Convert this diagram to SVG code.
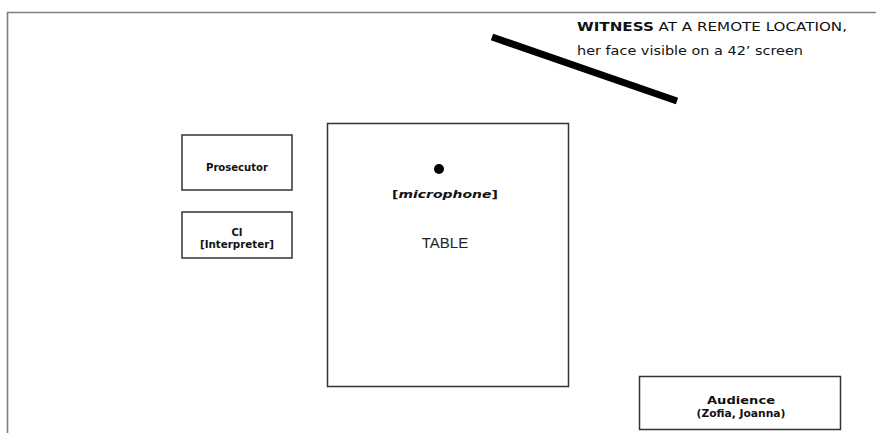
<svg xmlns="http://www.w3.org/2000/svg" width="876" height="433" viewBox="0 0 876 433">
<style>
.box{fill:#fff;stroke:#333;stroke-width:1.5}
.lbl{font-family:"DejaVu Sans",Verdana,sans-serif;font-weight:bold;font-size:10px;fill:#111;text-anchor:middle}
.wt{font-family:"DejaVu Sans",Verdana,sans-serif;font-size:11.5px;fill:#111}
</style>
<rect width="876" height="433" fill="#fff"/>
<path d="M7.5 433 V12.5 H876" fill="none" stroke="#808080" stroke-width="1.6"/>
<g id="witness">
<line x1="492" y1="37" x2="677" y2="101" stroke="#000" stroke-width="7"/>
<text class="wt" x="577" y="31" textLength="270" lengthAdjust="spacingAndGlyphs"><tspan font-weight="bold">WITNESS</tspan> AT A REMOTE LOCATION,</text>
<text class="wt" x="577" y="55" textLength="226" lengthAdjust="spacingAndGlyphs">her face visible on a 42’ screen</text>
</g>
<g id="prosecutor">
<rect class="box" x="182" y="135" width="110" height="55"/>
<text class="lbl" x="237" y="171" textLength="62" lengthAdjust="spacingAndGlyphs">Prosecutor</text>
</g>
<g id="interpreter">
<rect class="box" x="182" y="212" width="110" height="46"/>
<text class="lbl" x="237" y="236">CI</text>
<text class="lbl" x="237" y="248" textLength="74" lengthAdjust="spacingAndGlyphs">[Interpreter]</text>
</g>
<g id="table">
<rect class="box" x="327.5" y="123.5" width="241" height="263"/>
<circle cx="439" cy="169" r="5" fill="#000"/>
<text class="lbl" x="445" y="198" font-size="11.5" textLength="106" lengthAdjust="spacingAndGlyphs"><tspan>[</tspan><tspan font-style="italic">microphone</tspan><tspan>]</tspan></text>
<text x="445" y="248" font-family="Liberation Sans,Arial,sans-serif" font-size="15" fill="#222" text-anchor="middle">TABLE</text>
</g>
<g id="audience">
<rect class="box" x="639.5" y="376.5" width="201" height="53"/>
<text class="lbl" x="741" y="404" textLength="68" lengthAdjust="spacingAndGlyphs">Audience</text>
<text class="lbl" x="741" y="417" textLength="89" lengthAdjust="spacingAndGlyphs">(Zofia, Joanna)</text>
</g>
<g id="connectors"></g>
</svg>
